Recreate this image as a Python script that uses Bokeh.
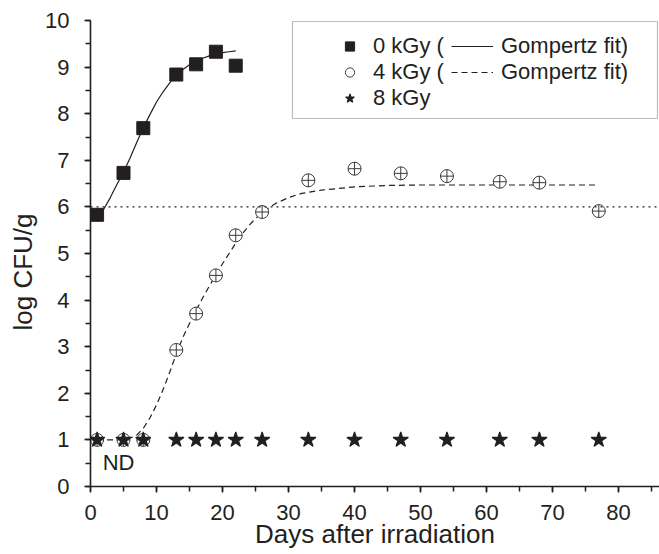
from bokeh.plotting import figure
from bokeh.models import (Range1d, SingleIntervalTicker, Legend, LegendItem,
                          Span, Label, BoxAnnotation, Title)
from bokeh.embed import file_html
from bokeh.resources import INLINE

# ---- data ----
days_0kGy = [1, 5, 8, 13, 16, 19, 22]
log_0kGy = [5.83, 6.73, 7.69, 8.84, 9.06, 9.33, 9.03]

days_4kGy = [1, 5, 8, 13, 16, 19, 22, 26, 33, 40, 47, 54, 62, 68, 77]
log_4kGy = [1.0, 1.0, 1.0, 2.93, 3.71, 4.53, 5.39, 5.89, 6.57, 6.82, 6.72, 6.66, 6.54, 6.52, 5.91]

days_8kGy = [1, 5, 8, 13, 16, 19, 22, 26, 33, 40, 47, 54, 62, 68, 77]
log_8kGy = [1.0, 1.0, 1.0, 1.0, 1.0, 1.0, 1.0, 1.0, 1.0, 1.0, 1.0, 1.0, 1.0, 1.0, 1.0]

# Gompertz fit curves as drawn in the reference
fit0_days = [1, 2, 3, 4, 5, 6, 7, 8, 9, 10, 11, 12, 13, 14, 15, 16, 17, 18, 19, 20, 21, 22]
fit0_log = [5.78, 5.95, 6.2, 6.48, 6.75, 7.05, 7.38, 7.7, 7.98, 8.25, 8.47, 8.66, 8.82,
            8.95, 9.05, 9.13, 9.19, 9.24, 9.28, 9.31, 9.33, 9.35]

fit4_days = [1, 3, 5, 6, 7, 8, 9, 10, 11, 12, 13, 14, 15, 16, 17, 18, 19, 20, 21, 22,
             23, 24, 25, 26, 27, 28, 30, 32, 35, 40, 45, 50, 60, 70, 77]
fit4_log = [1.0, 1.0, 1.01, 1.04, 1.1, 1.25, 1.47, 1.75, 2.08, 2.45, 2.85, 3.2, 3.5, 3.78,
            4.05, 4.3, 4.54, 4.78, 5.0, 5.22, 5.42, 5.6, 5.75, 5.88, 5.98, 6.07, 6.2,
            6.29, 6.36, 6.43, 6.46, 6.47, 6.47, 6.47, 6.47]

threshold_log = 6
nd_label = "ND"
nd_pos = (4.25, 0.52)
x_title = "Days after irradiation"
y_title = "log CFU/g"

INK = "#231f20"
FONT = "Liberation Sans"

p = figure(width=659, height=554, output_backend="svg", toolbar_location=None,
           x_range=Range1d(0, 86.2), y_range=Range1d(0, 10),
           min_border_left=90, min_border_right=0, min_border_top=20,
           min_border_bottom=68)
p.outline_line_color = None
p.xgrid.visible = False
p.ygrid.visible = False
p.background_fill_color = "white"

p.xaxis.ticker = SingleIntervalTicker(interval=10, num_minor_ticks=2)
p.yaxis.ticker = SingleIntervalTicker(interval=1, num_minor_ticks=2)
for ax in (p.xaxis[0], p.yaxis[0]):
    ax.axis_line_color = INK
    ax.axis_line_width = 1.6
    ax.major_tick_line_color = INK
    ax.major_tick_line_width = 1.5
    ax.minor_tick_line_color = INK
    ax.minor_tick_line_width = 1.5
    ax.major_tick_in = 0
    ax.major_tick_out = 6
    ax.minor_tick_in = 0
    ax.minor_tick_out = 5
    ax.major_label_text_font = FONT
    ax.major_label_text_font_size = "22px"
    ax.major_label_text_color = INK
p.xaxis.major_label_standoff = 12
p.yaxis.major_label_standoff = 15

p.xaxis.axis_label = x_title
p.xaxis.axis_label_text_font = FONT
p.xaxis.axis_label_text_font_size = "26px"
p.xaxis.axis_label_text_font_style = "normal"
p.xaxis.axis_label_text_color = INK
p.xaxis.axis_label_standoff = -4

# y title: sits below the frame centre in the reference, so use an offset title
p.add_layout(Title(text=y_title, align="left", offset=156, vertical_align="bottom",
                   standoff=9, text_font=FONT, text_font_size="26px",
                   text_font_style="normal", text_color=INK), "left")

# threshold dotted line
p.add_layout(Span(location=threshold_log, dimension="width", line_color=INK,
                  line_width=1.2, line_dash="2 4"))

# fits
fit0 = p.line(fit0_days, fit0_log, line_color=INK, line_width=1.2)
fit4 = p.line(fit4_days, fit4_log, line_color=INK, line_width=1.2, line_dash="6 4")

# markers
sq = p.scatter(days_0kGy, log_0kGy, marker="square", size=13, fill_color=INK,
               line_color=INK)
circ = p.scatter(days_4kGy, log_4kGy, marker="circle", size=13,
                 fill_color="white", line_color="#3a3a3a", line_width=1)
p.scatter(days_4kGy, log_4kGy, marker="cross", size=13, line_color="#3a3a3a",
          line_width=1)
star = p.scatter(days_8kGy, log_8kGy, marker="star", size=16, fill_color=INK,
                 line_color=INK, line_width=1.2)

p.add_layout(Label(x=nd_pos[0], y=nd_pos[1], text=nd_label, text_align="center",
                   text_baseline="middle", text_font=FONT, text_font_size="22px",
                   text_color=INK))

# legend frame
p.add_layout(BoxAnnotation(left=202, right=567, top=465, bottom=368,
                           left_units="screen", right_units="screen",
                           top_units="screen", bottom_units="screen",
                           fill_alpha=0, line_color=INK, line_width=1.2))

common = dict(padding=0, spacing=0, margin=0, border_line_alpha=0,
              background_fill_alpha=0, label_text_font=FONT,
              label_text_font_size="22px", label_text_color=INK,
              glyph_height=26, label_height=26)
legend_a = Legend(items=[LegendItem(label="0 kGy (", renderers=[sq]),
                         LegendItem(label="4 kGy (", renderers=[circ]),
                         LegendItem(label="8 kGy", renderers=[star])],
                  location=(248, 375), glyph_width=23, label_standoff=12, **common)
legend_b = Legend(items=[LegendItem(label="Gompertz fit)", renderers=[fit0]),
                         LegendItem(label="Gompertz fit)", renderers=[fit4])],
                  location=(361, 401), glyph_width=42, label_standoff=8, **common)
p.add_layout(legend_a)
p.add_layout(legend_b)

open("out.html", "w").write(file_html(p, INLINE))
